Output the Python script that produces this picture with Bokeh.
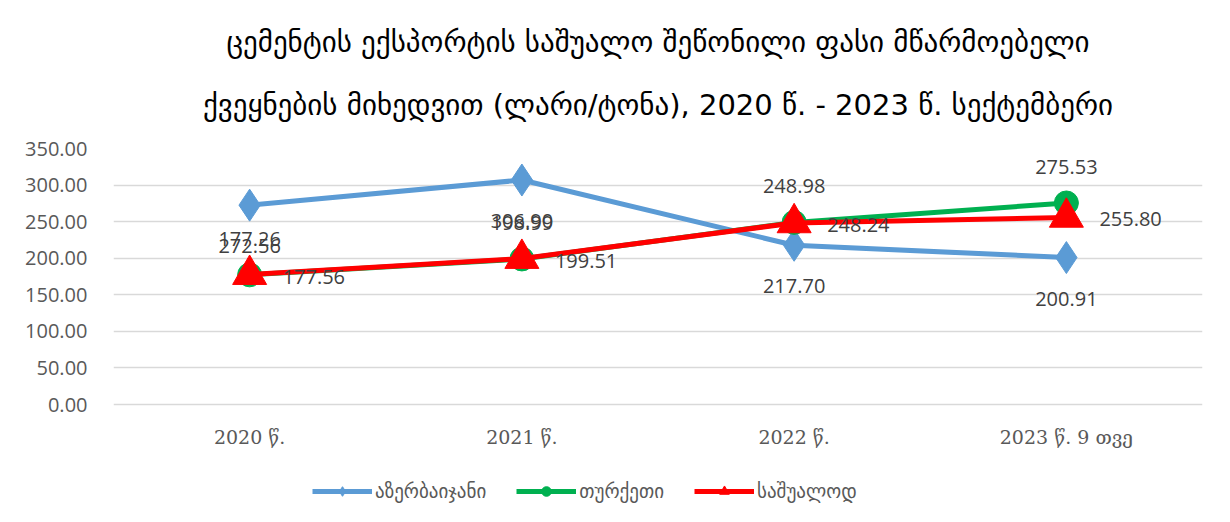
from bokeh.plotting import figure
from bokeh.models import (FactorRange, Range1d, FixedTicker, NumeralTickFormatter,
                          Legend, LegendItem, Title, ColumnDataSource)
from bokeh.core.properties import value
from bokeh.embed import file_html
from bokeh.resources import INLINE

categories = ["2020 წ.", "2021 წ.", "2022 წ.", "2023 წ. 9 თვე"]
azerbaijan = [272.56, 306.90, 217.70, 200.91]
turkey = [177.26, 198.99, 248.98, 275.53]
average = [177.56, 199.51, 248.24, 255.80]
series_names = ["აზერბაიჯანი", "თურქეთი", "საშუალოდ"]
y_ticks = [0, 50, 100, 150, 200, 250, 300, 350]
title_lines = ["ცემენტის ექსპორტის საშუალო შეწონილი ფასი მწარმოებელი",
               "ქვეყნების მიხედვით (ლარი/ტონა), 2020 წ. - 2023 წ. სექტემბერი"]

BLUE = "#5B9BD5"
GREEN = "#00B050"
RED = "#FF0000"
TXT = "#404040"
NUM_FONT = "Open Sans"
GEO_FONT = "DejaVu Sans"

# plot frame extends below the zero line so the legend can sit inside it
PX_PER_UNIT = 256 / 350.0
FRAME_H = 364
Y_START = -(FRAME_H - 256) / PX_PER_UNIT

p = figure(frame_width=1089, frame_height=FRAME_H, x_range=FactorRange(*categories, range_padding=0),
           y_range=Range1d(Y_START, 350), output_backend="svg", toolbar_location=None,
           min_border_left=113, min_border_right=20, min_border_top=148, min_border_bottom=0)
p.outline_line_color = None
p.background_fill_color = "white"
p.border_fill_color = "white"

t2 = Title(text=title_lines[1], align="center", text_font=GEO_FONT, text_font_size="29px",
           text_font_style="normal", text_color="#000000", standoff=54)
t1 = Title(text=title_lines[0], align="center", text_font=GEO_FONT, text_font_size="29px",
           text_font_style="normal", text_color="#000000", standoff=0)
p.add_layout(t2, "above")
p.add_layout(t1, "above")

p.yaxis.ticker = FixedTicker(ticks=y_ticks)
p.yaxis.formatter = NumeralTickFormatter(format="0.00")
p.yaxis.axis_line_color = None
p.yaxis.major_tick_line_color = None
p.yaxis.minor_tick_line_color = None
p.yaxis.major_label_text_font = NUM_FONT
p.yaxis.major_label_text_font_size = "20px"
p.yaxis.major_label_text_color = "#595959"
p.yaxis.major_label_standoff = 20

p.xaxis.fixed_location = 0
p.xaxis.axis_line_color = None
p.xaxis.major_tick_line_color = None
p.xaxis.major_label_text_font = "DejaVu Serif"
p.xaxis.major_label_text_font_size = "19px"
p.xaxis.major_label_text_color = "#595959"
p.xaxis.major_label_standoff = 15

p.xgrid.grid_line_color = None
p.ygrid.ticker = FixedTicker(ticks=y_ticks)
p.ygrid.grid_line_color = "#D9D9D9"
p.ygrid.grid_line_width = 1.5

src = ColumnDataSource(dict(x=categories, az=azerbaijan, tr=turkey, av=average,
                            az_t=[f"{v:.2f}" for v in azerbaijan],
                            tr_t=[f"{v:.2f}" for v in turkey],
                            av_t=[f"{v:.2f}" for v in average]))

l1 = p.line("x", "az", source=src, line_color=BLUE, line_width=5)
m1 = p.scatter("x", "az", source=src, marker="diamond", size=32, fill_color=BLUE, line_color=BLUE)
l2 = p.line("x", "tr", source=src, line_color=GREEN, line_width=5)
m2 = p.scatter("x", "tr", source=src, marker="circle", size=24, fill_color=GREEN, line_color=GREEN)
l3 = p.line("x", "av", source=src, line_color=RED, line_width=5)
m3 = p.scatter("x", "av", source=src, marker="triangle", size=34, fill_color=RED, line_color=RED)

p.text("x", "az", text="az_t", source=src, text_align="center", text_baseline="middle",
       y_offset=41, text_font=value(NUM_FONT), text_font_size="20px", text_color=TXT)
p.text("x", "tr", text="tr_t", source=src, text_align="center", text_baseline="middle",
       y_offset=-36, text_font=value(NUM_FONT), text_font_size="20px", text_color=TXT)
p.text("x", "av", text="av_t", source=src, text_align="left", text_baseline="middle",
       x_offset=33, y_offset=2, text_font=value(NUM_FONT), text_font_size="20px", text_color=TXT)

legend = Legend(items=[LegendItem(label=series_names[0], renderers=[l1, m1]),
                       LegendItem(label=series_names[1], renderers=[l2, m2]),
                       LegendItem(label=series_names[2], renderers=[l3, m3])],
                orientation="horizontal", location=(199, 9),
                label_text_font=GEO_FONT, label_text_font_size="19px", label_text_color="#595959",
                glyph_width=60, glyph_height=24, label_standoff=3, spacing=30,
                border_line_color=None, background_fill_alpha=0, padding=0, margin=0)
p.add_layout(legend, "center")

open("out.html", "w").write(file_html(p, INLINE))
